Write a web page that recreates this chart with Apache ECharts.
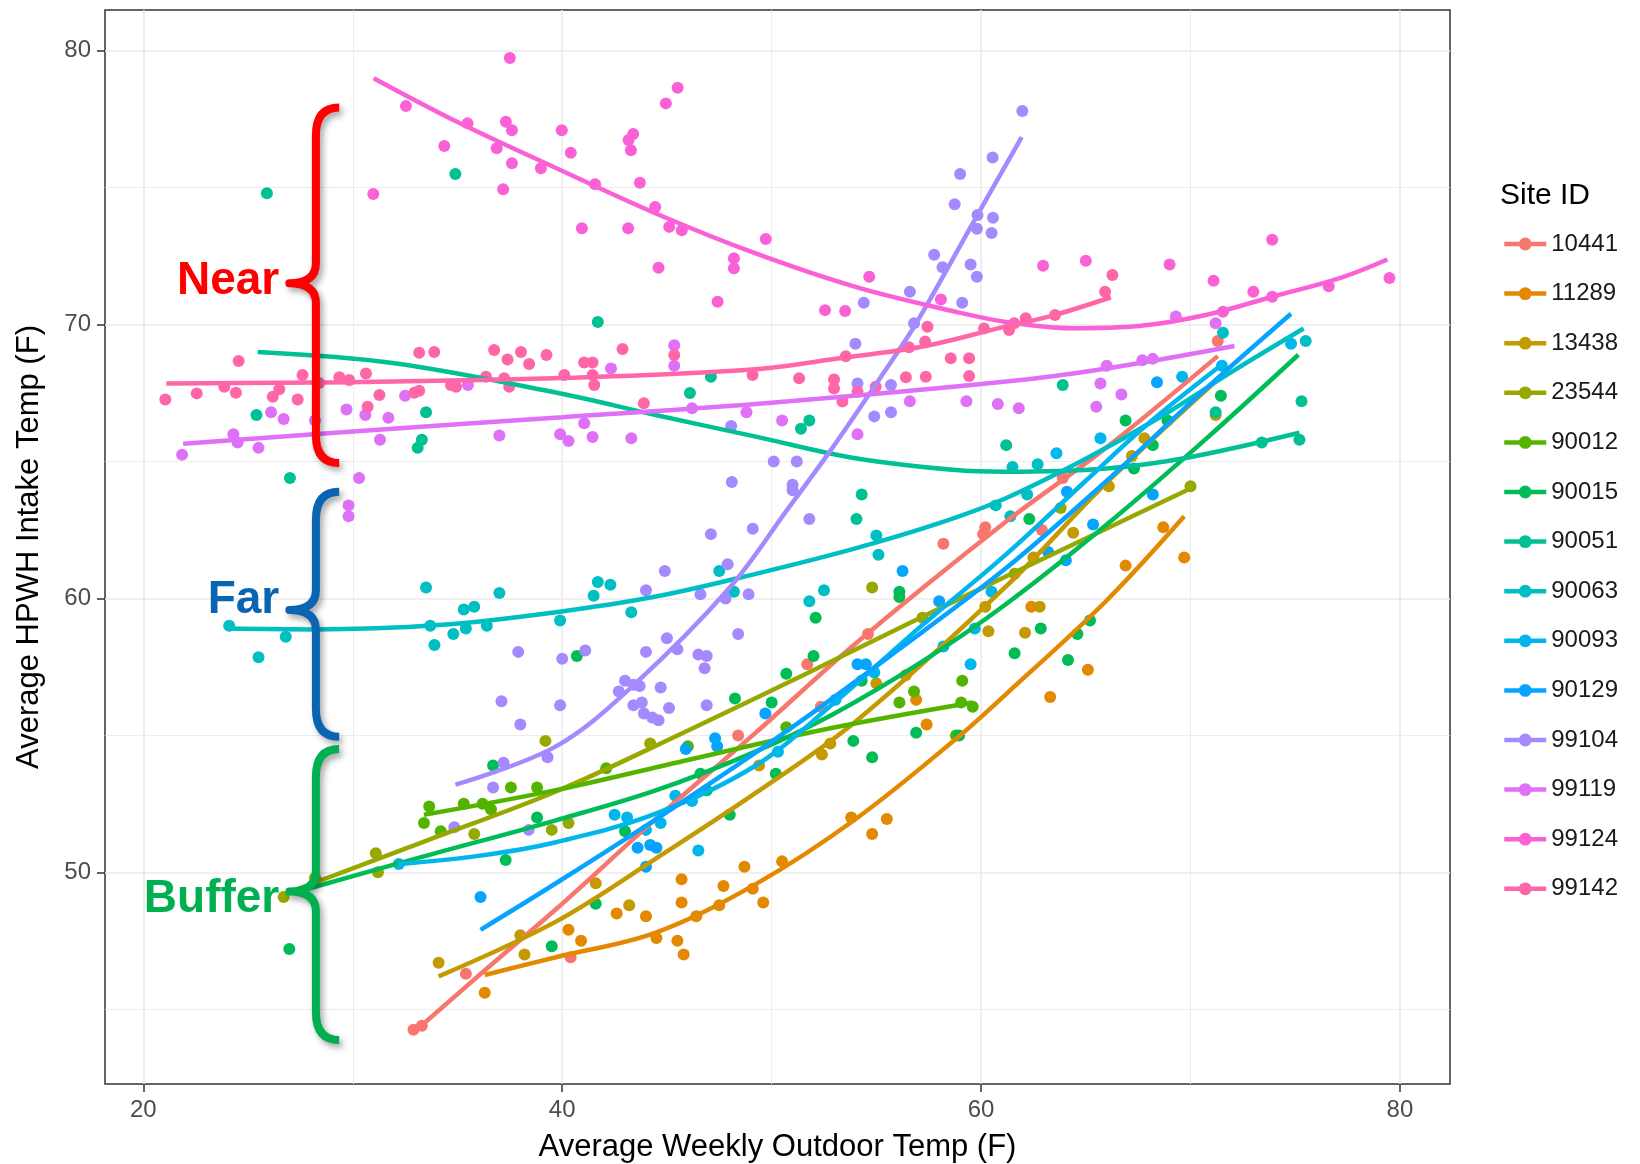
<!DOCTYPE html>
<html><head><meta charset="utf-8">
<script src="https://cdn.jsdelivr.net/npm/echarts@6/dist/echarts.min.js"></script>
<style>html,body{margin:0;padding:0;background:#fff}#c{width:1640px;height:1164px}</style>
</head><body><div id="c"></div>
<script>
// ---------- data ----------
const siteIds = ['10441','11289','13438','23544','90012','90015','90051','90063','90093','90129','99104','99119','99124','99142'];
const siteColors = ['#F8766D','#E38900','#C49A00','#99A800','#53B400','#00BC56','#00C094','#00BFC4','#00B6EB','#06A4FF','#A58AFF','#DF70F8','#FB61D7','#FF66A8'];
const xTicks = [20, 40, 60, 80];
const xMinorTicks = [30, 50, 70];
const yTicks = [50, 60, 70, 80];
const yMinorTicks = [45, 55, 65, 75];
const xRange = [18.17, 82.39];
const yRange = [42.27, 81.49];

const pts10441 = [[32.9,44.25],[33.3,44.4],[35.4,46.3],[40.4,46.9],[48.4,55.0],[51.7,57.6],[52.35,56.05],[54.6,58.7],[58.2,62.0],[60.2,62.6],[60.1,62.35],[62.9,62.5],[63.9,64.4],[71.3,69.4]];
const pts11289 = [[36.3,45.6],[40.3,47.9],[40.9,47.5],[42.6,48.5],[44.0,48.4],[44.5,47.6],[45.5,47.5],[45.8,47.0],[45.7,48.9],[45.7,49.75],[46.4,48.4],[47.5,48.8],[47.7,49.5],[48.7,50.2],[49.1,49.4],[49.6,48.9],[50.5,50.4],[53.8,52.0],[54.8,51.4],[55.5,51.95],[56.9,56.3],[57.4,55.4],[62.4,59.7],[63.3,56.4],[65.1,57.4],[66.9,61.2],[68.7,62.6],[69.7,61.5]];
const pts13438 = [[34.1,46.7],[38.2,47.0],[38.0,47.7],[41.6,49.6],[43.2,48.8],[49.4,53.9],[52.4,54.3],[52.8,54.7],[55.0,56.9],[56.4,57.2],[60.2,59.7],[60.35,58.8],[62.1,58.75],[62.8,59.7],[62.5,61.5],[64.4,62.4],[66.1,64.1],[67.2,65.2],[67.8,65.85],[71.2,66.7]];
const pts23544 = [[26.7,49.1],[28.2,49.8],[31.1,50.7],[31.2,50.0],[35.8,51.4],[39.2,54.8],[39.5,51.55],[40.3,51.8],[44.2,54.7],[54.8,60.4],[57.2,59.3],[61.6,60.9],[63.8,63.3],[70.0,64.1]];
const pts90012 = [[33.65,52.4],[33.4,51.8],[34.2,51.5],[35.3,52.5],[36.2,52.5],[36.6,52.3],[37.55,53.1],[38.8,53.1],[42.1,53.8],[46.0,54.6],[50.7,55.3],[56.1,56.2],[56.8,56.6],[58.8,55.0],[59.05,56.2],[59.6,56.05],[59.1,57.0]];
const pts90015 = [[26.97,47.2],[37.3,50.45],[38.8,52.0],[36.7,53.9],[39.5,47.3],[41.6,48.85],[43.0,51.5],[46.9,53.0],[48.0,52.1],[46.6,53.6],[50.2,53.6],[53.9,54.8],[54.8,54.2],[56.9,55.1],[58.95,55.0],[40.7,57.9],[48.25,56.35],[50.0,56.2],[50.7,57.25],[52.0,57.9],[52.1,59.3],[54.3,57.0],[56.1,60.25],[56.1,60.05],[61.6,58.0],[62.85,58.9],[64.6,58.7],[65.2,59.2],[64.15,57.75],[62.3,62.9],[66.9,66.5],[68.2,65.6],[67.3,64.75],[68.9,66.5],[71.45,67.4]];
const pts90051 = [[25.9,74.8],[34.9,75.5],[41.7,70.1],[25.4,66.7],[27.0,64.4],[33.5,66.8],[33.3,65.8],[33.1,65.5],[47.1,68.1],[46.1,67.5],[51.8,66.5],[51.4,66.2],[54.3,63.8],[54.05,62.9],[61.2,65.6],[63.9,67.8],[71.2,66.8],[73.4,65.7],[75.2,65.8],[75.3,67.2]];
const pts90063 = [[24.1,59.0],[26.8,58.6],[25.5,57.85],[33.5,60.4],[33.7,59.0],[33.9,58.3],[34.8,58.7],[35.3,59.6],[35.8,59.7],[35.4,58.9],[36.4,59.0],[37.0,60.2],[39.9,59.2],[41.7,60.6],[42.3,60.5],[41.5,60.1],[43.3,59.5],[47.5,61.0],[48.2,60.25],[51.8,59.9],[52.5,60.3],[55.0,62.3],[55.1,61.6],[60.7,63.4],[61.5,64.8],[62.7,64.9],[61.4,63.0],[62.2,63.8],[71.55,69.7],[75.5,69.4]];
const pts90093 = [[32.2,50.3],[42.5,52.1],[43.1,52.0],[44.7,51.8],[46.5,50.8],[46.2,52.6],[45.4,52.8],[44.0,51.55],[50.3,54.4],[53.05,56.3],[54.9,57.3],[58.2,58.25],[59.5,57.6],[59.7,58.9],[60.5,60.25],[63.6,65.3],[65.7,65.85],[69.6,68.1],[71.5,68.5],[74.8,69.3]];
const pts90129 = [[36.1,49.1],[43.6,50.9],[44.2,51.0],[44.5,50.9],[44.0,50.2],[45.9,54.5],[47.3,54.9],[47.4,54.6],[49.7,55.8],[54.1,57.6],[54.5,57.6],[56.25,61.0],[58.0,59.9],[63.2,61.7],[64.05,61.4],[64.1,63.9],[65.35,62.7],[68.2,63.8],[68.4,67.9]];
const pts99104 = [[61.97,77.8],[60.55,76.1],[59.0,75.5],[58.74,74.4],[59.83,74.0],[59.8,73.5],[60.57,73.9],[60.5,73.35],[57.76,72.55],[58.16,72.1],[59.5,72.2],[59.8,71.75],[56.6,71.2],[54.4,70.8],[59.1,70.8],[56.8,70.05],[54.0,69.3],[54.1,67.85],[55.7,67.8],[54.9,66.65],[55.7,66.8],[48.07,66.3],[50.1,65.0],[51.2,65.0],[48.1,64.25],[51.0,64.15],[51.0,63.95],[51.8,62.9],[49.1,62.55],[47.1,62.35],[47.9,61.25],[44.9,61.0],[44.0,60.3],[46.6,60.15],[48.9,60.15],[47.8,60.0],[48.4,58.7],[45.0,58.55],[44.0,58.05],[45.5,58.15],[40.0,57.8],[46.5,57.95],[46.9,57.9],[46.8,57.45],[43.0,57.0],[43.4,56.85],[43.7,56.8],[42.7,56.6],[44.7,56.75],[43.4,56.1],[43.8,56.2],[43.9,55.8],[44.3,55.65],[44.6,55.55],[45.1,56.0],[46.9,56.1],[39.9,56.1],[36.7,53.1],[34.85,51.65],[37.2,54.0],[39.3,54.2],[38.4,51.55],[38.0,55.4],[37.1,56.25],[37.9,58.05],[41.1,58.1]];
const pts99119 = [[21.85,65.25],[24.3,66.0],[24.5,65.7],[25.5,65.5],[26.1,66.8],[26.7,66.55],[28.2,66.5],[29.7,66.9],[30.3,64.4],[29.8,63.4],[29.8,63.0],[30.6,66.7],[31.3,65.8],[31.7,66.6],[32.5,67.4],[35.5,67.8],[37.0,65.95],[39.9,66.0],[40.3,65.75],[41.05,66.4],[41.45,65.9],[42.33,68.4],[43.3,65.85],[45.35,69.25],[45.35,68.5],[46.2,66.95],[48.8,66.8],[50.5,66.5],[54.1,66.0],[56.6,67.2],[59.3,67.2],[60.8,67.1],[61.8,66.95],[65.5,67.0],[65.7,67.85],[66.7,67.45],[66.0,68.5],[67.7,68.7],[68.2,68.75],[69.3,70.3],[71.2,70.05]];
const pts99124 = [[30.98,74.77],[32.54,77.98],[34.37,76.52],[35.48,77.35],[36.87,76.44],[37.31,77.41],[37.6,77.1],[37.5,79.74],[37.6,75.89],[37.18,74.94],[38.98,75.71],[39.98,77.1],[40.41,76.28],[40.94,73.52],[41.57,75.13],[43.15,73.52],[43.28,76.37],[43.17,76.74],[43.39,76.96],[43.71,75.18],[44.44,74.3],[44.95,78.08],[45.51,78.65],[45.11,73.57],[45.71,73.45],[44.6,72.08],[47.42,70.84],[48.2,72.42],[48.2,72.06],[49.72,73.13],[52.55,70.53],[53.51,70.5],[54.66,71.75],[58.08,70.92],[62.96,72.15],[65.0,72.33],[69.0,72.2],[71.1,71.6],[71.55,70.47],[73.0,71.2],[73.9,71.02],[73.9,73.1],[76.6,71.4],[79.5,71.7]];
const pts99142 = [[21.05,67.27],[22.55,67.49],[23.87,67.73],[24.42,67.51],[26.18,67.37],[26.49,67.64],[27.37,67.27],[27.6,68.16],[28.4,67.87],[29.36,68.08],[29.83,67.98],[30.63,68.22],[30.71,67.0],[31.27,67.43],[32.94,67.51],[33.17,67.59],[34.69,67.8],[34.93,67.73],[36.36,68.1],[37.23,68.04],[37.47,67.73],[24.55,68.67],[33.17,68.97],[33.89,69.0],[36.75,69.07],[37.39,68.73],[38.03,69.0],[38.42,68.56],[39.25,68.89],[42.88,69.11],[41.05,68.62],[41.45,68.62],[45.35,68.89],[60.14,69.86],[59.43,68.77],[58.55,68.77],[53.54,68.85],[57.44,69.92],[57.33,69.38],[56.56,69.17],[40.1,68.16],[41.45,68.16],[41.53,67.8],[43.9,67.13],[49.09,68.16],[51.31,68.04],[52.98,68.0],[52.98,67.67],[53.38,67.19],[54.1,67.55],[54.97,67.73],[56.41,68.08],[57.36,68.1],[59.43,68.12],[61.34,69.8],[61.58,70.05],[62.13,70.23],[63.53,70.35],[65.92,71.2],[66.27,71.81]];

const fit10441 = [[33.05,44.25],[36.5,46.55],[39.7,48.65],[44.47,51.95],[49.24,55.1],[54,58.35],[61.18,62.8],[65.96,65.5],[71.3,68.85]];
const fit11289 = [[36.3,46.25],[39.7,46.9],[44.47,47.8],[49.24,49.57],[54,51.94],[58.78,54.86],[61.18,56.5],[65.96,59.9],[69.7,63.0]];
const fit13438 = [[34.1,46.2],[39.7,48.2],[44.47,50.5],[49.24,52.9],[54,55.5],[61.18,60.43],[65.96,64.2],[71.1,67.86]];
const fit23544 = [[27.4,49.4],[33.5,51.15],[39.7,52.95],[46.06,55.2],[51.5,57.2],[57.2,59.33],[61.18,60.8],[70.1,64.05]];
const fit90012 = [[33.4,52.1],[39.7,53.0],[46,54.1],[52.4,55.2],[59.6,56.2]];
const fit90015 = [[27.4,49.3],[33,50.5],[39.7,51.9],[44.5,53.0],[49.2,54.4],[53,55.8],[57.2,57.7],[61.2,59.8],[66,62.7],[70.7,65.8],[75.15,68.9]];
const fit90051 = [[25.46,69.0],[31.9,68.6],[39.7,67.52],[44.46,66.7],[49.24,65.91],[54,65.12],[58.78,64.69],[61.2,64.63],[66,64.75],[69.9,65.15],[75.2,66.05]];
const fit90063 = [[23.95,58.9],[28.1,58.87],[34.1,59.03],[39.7,59.5],[44.46,60.07],[49.24,60.9],[54,61.83],[58,62.75],[61.18,63.66],[65,65.1],[68.5,66.6],[72.1,68.34],[75.4,69.86]];
const fit90093 = [[32.2,50.3],[36,50.6],[39.7,51.1],[44.5,52.15],[49.24,53.9],[53,56.2],[57,58.9],[61.18,61.6],[65,64.3],[68,66.4],[71.6,68.6]];
const fit90129 = [[36.1,47.9],[39.7,49.6],[45,52.2],[50.8,55.2],[56,58.1],[61.18,61.1],[66,64.3],[70.5,67.5],[74.8,70.4]];
const fit99104 = [[34.9,53.2],[39.7,54.6],[43.5,56.9],[48,60.4],[50.8,63.3],[52.9,65.5],[55.4,68.3],[56.9,70.05],[59.75,73.9],[61.94,76.85]];
const fit99119 = [[21.9,65.65],[30,66.1],[40,66.62],[50,67.15],[61.2,67.92],[66,68.4],[72.1,69.22]];
const fit99124 = [[31.0,79.0],[35,77.4],[39.7,75.72],[44.47,74.06],[49.24,72.6],[54,71.38],[58.78,70.47],[61.18,70.1],[64.36,69.87],[67.54,69.95],[70.73,70.35],[73.91,71.02],[77.09,71.69],[79.4,72.38]];
const fit99142 = [[21.1,67.85],[30,67.9],[40,68.05],[48.9,68.35],[53.5,68.8],[57.2,69.2],[61,69.9],[63.5,70.35],[66.2,71.0]];

const sitePoints = [pts10441,pts11289,pts13438,pts23544,pts90012,pts90015,pts90051,pts90063,pts90093,pts90129,pts99104,pts99119,pts99124,pts99142];
const siteFits = [fit10441,fit11289,fit13438,fit23544,fit90012,fit90015,fit90051,fit90063,fit90093,fit90129,fit99104,fit99119,fit99124,fit99142];

// annotation braces (data units)
const braceLabels = ['Near', 'Far', 'Buffer'];
const braceColors = ['#FF0000', '#0A64B4', '#00B050'];
const braceTop = [77.93, 63.9, 54.5];
const braceBottom = [64.95, 54.95, 43.88];
const braceTip = [71.51, 59.58, 49.3];
const braceLabelY = [71.6, 59.94, 49.03];

// ---------- chart ----------
const FONT = '"Liberation Sans", Arial, Helvetica, sans-serif';
const chart = echarts.init(document.getElementById('c'), null, {renderer: 'canvas'});

const lineSeries = siteIds.map((id, i) => ({
  name: id, type: 'line', data: siteFits[i], smooth: 0.35,
  showSymbol: false, symbol: 'circle', symbolSize: 12, z: 3, silent: true,
  itemStyle: {color: siteColors[i]},
  lineStyle: {color: siteColors[i], width: 4.5},
  emphasis: {disabled: true}
}));
const scatterSeries = siteIds.map((id, i) => ({
  name: id, type: 'scatter', data: sitePoints[i], symbol: 'circle', symbolSize: 12, z: 2, silent: true,
  itemStyle: {color: siteColors[i], opacity: 1},
  emphasis: {disabled: true}
}));

const braceSeries = {
  type: 'custom', z: 10, silent: true, clip: false,
  data: braceLabels.map((_, i) => [i, 0]),
  renderItem: function (params, api) {
    const i = params.dataIndex;
    const xe = api.coord([29.35, braceTop[i]])[0];
    const xs = api.coord([28.24, braceTop[i]])[0];
    const xt = api.coord([26.97, braceTop[i]])[0];
    const xl = api.coord([26.49, braceTop[i]])[0];
    const yT = api.coord([28, braceTop[i]])[1];
    const yB = api.coord([28, braceBottom[i]])[1];
    const yM = api.coord([28, braceTip[i]])[1];
    const yL = api.coord([28, braceLabelY[i]])[1];
    const r = 28, r2 = 20;
    const d = `M${xe},${yT} Q${xs},${yT} ${xs},${yT + r} L${xs},${yM - r2} Q${xs},${yM} ${xt},${yM} Q${xs},${yM} ${xs},${yM + r2} L${xs},${yB - r} Q${xs},${yB} ${xe},${yB}`;
    return {
      type: 'group',
      children: [
        {type: 'path', shape: {pathData: d},
         style: {fill: 'none', stroke: braceColors[i], lineWidth: 8, lineJoin: 'round',
                 shadowBlur: 6, shadowColor: 'rgba(0,0,0,0.35)', shadowOffsetX: 3, shadowOffsetY: 4}},
        {type: 'text', x: xl, y: yL,
         style: {text: braceLabels[i], fill: braceColors[i], font: 'bold 46px ' + FONT,
                 align: 'right', verticalAlign: 'middle', textAlign: 'right', textVerticalAlign: 'middle',
                 shadowBlur: 6, shadowColor: 'rgba(0,0,0,0.4)', shadowOffsetX: 3, shadowOffsetY: 5}}
      ]
    };
  }
};

const option = {
  animation: false,
  backgroundColor: '#fff',
  textStyle: {fontFamily: FONT},
  title: {text: 'Site ID', left: 1495, top: 176, textStyle: {fontSize: 30, fontWeight: 'normal', color: '#000', fontFamily: FONT}},
  legend: {
    orient: 'vertical', left: 1497, top: 227, itemWidth: 42, itemHeight: 16, itemGap: 25.6,
    data: siteIds, selectedMode: false,
    lineStyle: {width: 4.5},
    textStyle: {fontSize: 24, color: '#1A1A1A', fontFamily: FONT, lineHeight: 24}
  },
  grid: {left: 105, right: 190, top: 10, bottom: 80, show: true, borderColor: '#333', borderWidth: 1.5,
         containLabel: false, outerBoundsMode: 'none'},
  xAxis: [{
    type: 'value', min: xRange[0], max: xRange[1],
    axisLine: {show: false},
    axisTick: {show: true, length: 8, lineStyle: {color: '#333', width: 1.5}, customValues: xTicks},
    axisLabel: {customValues: xTicks, fontSize: 24, color: '#4D4D4D', margin: 14, fontFamily: FONT},
    splitLine: {show: true, lineStyle: {color: '#EBEBEB', width: 1.6}},
    name: 'Average Weekly Outdoor Temp (F)', nameLocation: 'middle', nameGap: 48,
    nameTextStyle: {fontSize: 31, color: '#000', fontFamily: FONT}
  }, {
    type: 'value', min: xRange[0], max: xRange[1], position: 'top',
    axisLine: {show: false}, axisTick: {show: false, customValues: xMinorTicks},
    axisLabel: {show: false, customValues: xMinorTicks},
    splitLine: {show: true, lineStyle: {color: '#EBEBEB', width: 0.9}}
  }],
  yAxis: [{
    type: 'value', min: yRange[0], max: yRange[1],
    axisLine: {show: false},
    axisTick: {show: true, length: 8, lineStyle: {color: '#333', width: 1.5}, customValues: yTicks},
    axisLabel: {customValues: yTicks, fontSize: 24, color: '#4D4D4D', margin: 14, fontFamily: FONT},
    splitLine: {show: true, lineStyle: {color: '#EBEBEB', width: 1.6}},
    name: 'Average HPWH Intake Temp (F)', nameLocation: 'middle', nameGap: 60,
    nameTextStyle: {fontSize: 31, color: '#000', fontFamily: FONT}
  }, {
    type: 'value', min: yRange[0], max: yRange[1], position: 'right',
    axisLine: {show: false}, axisTick: {show: false, customValues: yMinorTicks},
    axisLabel: {show: false, customValues: yMinorTicks},
    splitLine: {show: true, lineStyle: {color: '#EBEBEB', width: 0.9}}
  }],
  series: lineSeries.concat(scatterSeries, [braceSeries])
};
chart.setOption(option);
</script>
</body></html>
